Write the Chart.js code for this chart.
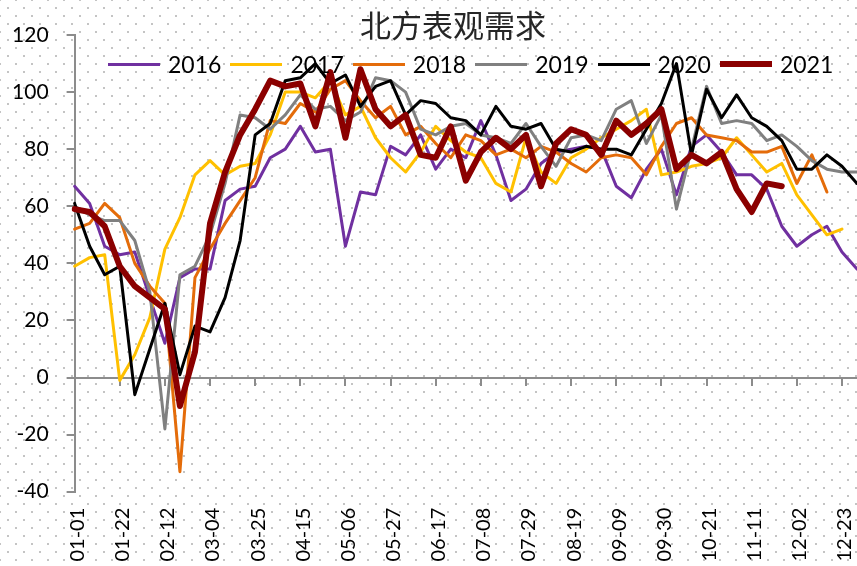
<!DOCTYPE html>
<html>
<head>
<meta charset="utf-8">
<script src="https://cdn.jsdelivr.net/npm/chart.js@4.4.1/dist/chart.umd.min.js"></script>
<style>
  html, body { margin: 0; padding: 0; }
  body {
    width: 857px; height: 566px; overflow: hidden; position: relative;
    background-color: #fff;
    background-image: radial-gradient(circle, #c4c4c4 0.9px, transparent 1.4px),
                      radial-gradient(circle, #c4c4c4 0.9px, transparent 1.4px);
    background-size: 16px 16px;
    background-position: 0 0, 8px 8px;
  }
  #c { position: absolute; left: 0; top: 0; }
  #title { position: absolute; left: 353px; top: 8px; width: 200px; text-align: center;
    font-family: "Noto Sans CJK SC", sans-serif; font-size: 31px; line-height: 31px; color: #262626; }
  #legend { position: absolute; left: 0; top: 50px; font-family: Lato, sans-serif; font-size: 23px; color: #000; }
  .item { position: absolute; top: 0; height: 28px; display: flex; align-items: center; white-space: nowrap; }
  .item .ln { display: inline-block; width: 52px; margin-right: 8px; }
</style>
</head>
<body>
<canvas id="c" width="857" height="566"></canvas>
<div id="title">北方表观需求</div>
<div id="legend"></div>
<script>
// weekly categories (one per week), a label shown every 3rd week
var weeks = ['01-01','01-08','01-15','01-22','01-29','02-05','02-12','02-19','02-26','03-04',
  '03-11','03-18','03-25','04-01','04-08','04-15','04-22','04-29','05-06','05-13',
  '05-20','05-27','06-03','06-10','06-17','06-24','07-01','07-08','07-15','07-22',
  '07-29','08-05','08-12','08-19','08-26','09-02','09-09','09-16','09-23','09-30',
  '10-07','10-14','10-21','10-28','11-04','11-11','11-18','11-25','12-02','12-09',
  '12-16','12-23','12-30'];
var labelEvery = 3;

var years = ['2016', '2017', '2018', '2019', '2020', '2021'];
var colors = ['#7030A0', '#FFC000', '#E46C0A', '#808080', '#000000', '#8B0000'];
var widths = [3, 3, 3, 3, 3, 6];

var y2016 = [67,61,46,43,44,28,12,35,38,38,62,66,67,77,80,88,79,80,46,65,
  64,81,78,85,73,80,77,90,78,62,66,75,79,80,81,80,67,63,73,80,
  64,81,85,79,71,71,66,53,46,50,53,44,38];
var y2017 = [39,42,43,-1,8,21,45,56,71,76,71,74,75,85,100,100,98,104,92,95,
  84,77,72,79,88,83,79,77,68,65,84,72,68,77,80,84,87,90,94,71,
  72,74,75,77,84,78,72,75,64,57,50,52,null];
var y2018 = [52,54,61,56,40,32,26,-33,35,45,54,62,70,90,89,96,93,101,104,97,
  91,95,85,88,82,77,85,83,78,80,77,81,79,75,72,77,78,77,71,81,
  89,91,85,84,83,79,79,81,68,78,65,null,null];
var y2019 = [60,57,55,55,48,30,-18,36,39,50,68,92,91,87,92,99,94,95,90,93,
  105,104,100,87,85,88,89,85,84,82,89,81,74,84,85,83,94,97,82,92,
  59,80,102,89,90,89,83,85,81,76,73,72,72];
var y2020 = [61,46,36,39,-6,10,26,1,18,16,28,48,85,89,104,105,110,103,106,95,
  102,104,92,97,96,91,90,85,95,88,87,89,80,79,81,80,80,78,87,96,
  110,78,101,91,99,91,88,83,73,73,78,74,68];
var y2021 = [59,58,53,39,32,28,24,-10,9,54,72,85,94,104,102,103,88,107,84,108,
  94,88,92,78,77,88,69,79,84,80,85,67,82,87,85,78,90,85,89,94,
  73,78,75,79,66,58,68,67,null,null,null,null,null];
var series = [y2016, y2017, y2018, y2019, y2020, y2021];

var axisGray = '#8c8c8c';

var datasets = years.map(function(y, k) {
  return {
    label: y,
    data: series[k],
    borderColor: colors[k],
    backgroundColor: colors[k],
    borderWidth: widths[k],
    pointRadius: 0,
    tension: 0,
    borderJoinStyle: 'round',
    borderCapStyle: 'round',
    order: years.length - 1 - k   // later years drawn on top
  };
});

function noSidePadding(s) { s.paddingLeft = 0; s.paddingRight = 0; }

var chart = new Chart(document.getElementById('c'), {
  type: 'line',
  data: { labels: weeks, datasets: datasets },
  options: {
    responsive: false,
    animation: false,
    layout: { padding: { left: 0, right: 0, top: 35, bottom: 0 } },
    plugins: {
      legend: { display: false },
      tooltip: { enabled: false }
    },
    scales: {
      x: {
        grid: { display: false, drawTicks: false },
        border: { display: false },
        ticks: {
          autoSkip: false, maxRotation: 90, minRotation: 90, padding: 16, labelOffset: 3,
          color: '#000', font: { family: 'Lato', size: 20 },
          callback: function(v, i) { return i % labelEvery === 0 ? this.getLabelForValue(v) : null; }
        },
        afterFit: function(s) { s.height = 74.3; noSidePadding(s); }
      },
      x0: {
        type: 'category',
        position: { y: 0 },
        ticks: { display: false },
        border: { color: axisGray, width: 2 },
        grid: {
          drawOnChartArea: false, tickLength: 7, lineWidth: 2,
          color: function(c) { return c.index % labelEvery === 0 ? axisGray : 'rgba(0,0,0,0)'; }
        },
        afterFit: function(s) { s.height = 0; noSidePadding(s); }
      },
      y: {
        min: -40, max: 120,
        ticks: { stepSize: 20, padding: 18, color: '#000', font: { family: 'Lato', size: 21 } },
        border: { color: axisGray, width: 2 },
        grid: { drawOnChartArea: false, tickLength: 8, lineWidth: 2, color: axisGray },
        afterFit: function(s) { s.width = 74.6; }
      }
    }
  }
});

// legend drawn inside the plot, as in the original
var legend = document.getElementById('legend');
years.forEach(function(y, k) {
  var it = document.createElement('div');
  it.className = 'item';
  it.style.left = (108 + k * 122.4) + 'px';
  it.innerHTML = '<span class="ln" style="height:' + widths[k] + 'px;background:' + colors[k] + '"></span><span>' + y + '</span>';
  legend.appendChild(it);
});
</script>
</body>
</html>
